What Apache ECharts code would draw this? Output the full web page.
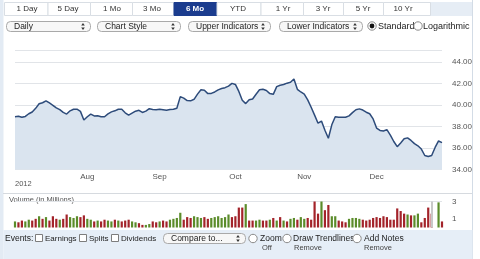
<!DOCTYPE html>
<html><head><meta charset="utf-8">
<script src="https://cdn.jsdelivr.net/npm/echarts@6/dist/echarts.min.js"></script>
<style>html,body{margin:0;padding:0;background:#fff}#c{width:480px;height:259px}</style>
</head><body><div id="c"></div>
<script>
// ---- data ----
const closes = [
38.91,38.95,38.85,38.93,39.18,39.34,39.68,40.10,40.20,40.37,
40.18,39.96,39.72,39.56,39.30,39.15,39.45,39.60,39.60,39.40,
38.60,38.90,39.15,38.98,39.00,38.90,38.90,39.17,39.35,39.45,
39.60,39.60,39.27,39.05,39.24,39.42,39.50,39.30,39.42,39.65,
39.58,39.55,39.60,39.55,39.50,39.57,39.60,39.69,40.77,40.63,
40.40,40.38,40.52,41.00,41.40,41.37,41.05,41.07,41.20,41.40,
41.52,41.60,41.75,42.00,41.90,41.25,40.44,40.12,40.47,40.55,
40.99,41.40,41.45,41.34,41.05,40.98,41.70,41.83,41.89,42.02,
42.10,42.40,41.45,41.20,41.00,40.47,39.78,39.05,38.30,38.50,
37.65,36.90,38.15,38.90,38.85,38.85,38.85,38.98,39.28,39.55,
39.63,39.52,39.32,39.18,38.70,37.85,37.63,37.58,37.70,37.20,
36.60,36.12,36.47,36.85,36.94,36.70,36.40,36.20,35.90,35.30,
35.20,35.30,36.05,36.65,36.50];
const volumes = [
0.7,0.6,0.8,0.7,0.9,0.8,1.0,1.3,1.0,1.2,
0.8,1.3,1.0,0.9,1.0,1.5,1.2,1.1,1.3,1.2,
1.4,1.0,0.9,0.7,0.8,0.7,0.9,0.8,0.7,0.9,
0.8,0.7,0.8,0.9,0.7,0.6,0.5,0.3,0.3,0.4,
0.7,0.6,0.7,0.8,0.7,0.9,1.0,1.1,1.7,0.9,
1.2,1.1,1.3,1.2,1.1,1.2,1.0,1.1,1.2,1.3,
1.1,1.2,1.5,1.2,1.3,2.3,2.3,2.7,0.8,0.8,
0.8,0.9,0.8,0.8,0.9,1.1,0.8,1.2,0.8,0.7,
1.0,1.1,0.9,1.2,1.0,1.1,0.9,3.0,1.6,3.0,
2.0,2.6,1.3,1.3,0.8,0.7,0.6,1.0,1.1,1.1,
1.0,0.9,0.8,0.9,1.1,1.2,1.1,1.3,1.2,0.9,
0.9,2.2,1.9,1.6,1.5,1.4,1.4,1.6,0.6,1.1,
2.3,1.6,0.0,2.9,0.7];
// 1 = green (up), 0 = red (down)
const volUp = [
1,0,0,1,1,0,0,1,0,1,
0,0,0,1,0,0,1,1,1,0,
0,1,1,0,1,0,0,1,1,0,
1,0,0,0,1,1,0,0,1,1,
0,0,1,0,0,1,1,1,1,0,
0,0,1,1,1,0,0,1,1,1,
1,1,1,0,0,0,0,1,0,0,
1,1,0,0,1,0,1,0,1,0,
1,1,0,1,1,0,0,0,0,1,
0,0,1,1,0,0,0,1,1,1,
1,0,0,0,0,0,0,0,0,0,
0,0,0,0,1,0,1,1,0,0,
0,0,0,1,0];
const monthTicks = {21:'Aug', 42:'Sep', 64:'Oct', 84:'Nov', 105:'Dec'};
const tabs = ['1 Day','5 Day','1 Mo','3 Mo','6 Mo','YTD','1 Yr','3 Yr','5 Yr','10 Yr'];
const tabCenters = [27,68,112,152,195,238,283,323,363,403];
const selectedTab = '6 Mo';
const dropdowns = ['Daily','Chart Style','Upper Indicators','Lower Indicators'];

const cats = closes.map((_, i) => String(i));
const UP = '#5b8c2a', DOWN = '#a3232a';
const FONT = 'Liberation Sans, Arial, sans-serif';

// ---- UI graphics ----
const g = [];
g.push({type:'rect', shape:{x:0,y:0,width:3.5,height:259}, style:{fill:'#e3ebf4'}, silent:true});
g.push({type:'line', shape:{x1:472.5,y1:0,x2:472.5,y2:259}, style:{stroke:'#d3dce6',lineWidth:1}, silent:true});
g.push({type:'rect', shape:{x:430,y:2,width:42,height:14}, style:{fill:'#e6edf5'}, silent:true});
tabs.forEach((t, i) => {
  const l = i === 0 ? 4 : (tabCenters[i-1] + tabCenters[i]) / 2;
  const r = i === tabs.length - 1 ? 430 : (tabCenters[i] + tabCenters[i+1]) / 2;
  const sel = t === selectedTab;
  g.push({type:'rect', shape:{x:l+0.5,y:2.5,width:r-l,height:13}, style:{fill: sel ? '#1b3c8e' : '#fff', stroke: sel ? '#1b3c8e' : '#d9dee4', lineWidth:1}, silent:true});
  g.push({type:'text', style:{text:t, x:tabCenters[i], y:9, align:'center', verticalAlign:'middle', font:(sel?'bold ':'')+'8px '+FONT, fill: sel ? '#fff' : '#333'}, silent:true});
});
const ddBoxes = [[6,90],[97,180],[188,270],[279,362]];
function dropdown(x1, x2, y1, y2, label) {
  g.push({type:'rect', shape:{x:x1+0.5,y:y1+0.5,width:x2-x1,height:y2-y1,r:4}, style:{fill:'#f7f7f7', stroke:'#a9a9a9', lineWidth:1}, silent:true});
  g.push({type:'text', style:{text:label, x:x1+8, y:(y1+y2)/2+0.5, verticalAlign:'middle', font:'8.5px '+FONT, fill:'#222'}, silent:true});
  const ax = x2 - 7, cy = (y1+y2)/2 + 0.5;
  g.push({type:'polygon', shape:{points:[[ax-1.8,cy-1],[ax+1.8,cy-1],[ax,cy-3.5]]}, style:{fill:'#333'}, silent:true});
  g.push({type:'polygon', shape:{points:[[ax-1.8,cy+1],[ax+1.8,cy+1],[ax,cy+3.5]]}, style:{fill:'#333'}, silent:true});
}
dropdowns.forEach((d, i) => dropdown(ddBoxes[i][0], ddBoxes[i][1], 21, 31, d));
function radio(cx, cy, on) {
  g.push({type:'circle', shape:{cx:cx,cy:cy,r:4.2}, style:{fill:'#fff', stroke:'#8a8a8a', lineWidth:1}, silent:true});
  if (on) g.push({type:'circle', shape:{cx:cx,cy:cy,r:2.4}, style:{fill:'#111'}, silent:true});
}
radio(372, 26, true);
g.push({type:'text', style:{text:'Standard', x:378, y:26.5, verticalAlign:'middle', font:'9px '+FONT, fill:'#222'}, silent:true});
radio(418, 26, false);
g.push({type:'text', style:{text:'Logarithmic', x:423, y:26.5, verticalAlign:'middle', font:'9px '+FONT, fill:'#222'}, silent:true});
g.push({type:'text', style:{text:'LINE.0', x:22, y:124, verticalAlign:'middle', font:'8px '+FONT, fill:'#2d4b7a'}, silent:true});
g.push({type:'text', style:{text:'2012', x:15, y:184, verticalAlign:'middle', font:'7.5px '+FONT, fill:'#555'}, silent:true});
g.push({type:'line', shape:{x1:3,y1:193.5,x2:472,y2:193.5}, style:{stroke:'#d6dadf',lineWidth:1}, silent:true});
g.push({type:'text', style:{text:'Volume (in Millions)', x:9, y:199.5, verticalAlign:'middle', font:'7.5px '+FONT, fill:'#555'}, silent:true});
g.push({type:'rect', shape:{x:3.5,y:230,width:469,height:29}, style:{fill:'#e6eef7'}, silent:true});
g.push({type:'text', style:{text:'Events:', x:5, y:238.5, verticalAlign:'middle', font:'8.5px '+FONT, fill:'#222'}, silent:true});
function checkbox(x, label) {
  g.push({type:'rect', shape:{x:x+0.5,y:234.5,width:7,height:7}, style:{fill:'#fff', stroke:'#7d7d7d', lineWidth:1}, silent:true});
  g.push({type:'text', style:{text:label, x:x+10, y:238.5, verticalAlign:'middle', font:'8px '+FONT, fill:'#222'}, silent:true});
}
checkbox(35, 'Earnings');
checkbox(79, 'Splits');
checkbox(111, 'Dividends');
dropdown(163, 245, 233, 243, 'Compare to...');
radio(253, 238.5, false);
g.push({type:'text', style:{text:'Zoom', x:260, y:238.5, verticalAlign:'middle', font:'8.5px '+FONT, fill:'#222'}, silent:true});
g.push({type:'text', style:{text:'Off', x:262, y:248, verticalAlign:'middle', font:'7.5px '+FONT, fill:'#444'}, silent:true});
radio(287, 238.5, false);
g.push({type:'text', style:{text:'Draw Trendlines', x:293, y:238.5, verticalAlign:'middle', font:'8.5px '+FONT, fill:'#222'}, silent:true});
g.push({type:'text', style:{text:'Remove', x:294, y:248, verticalAlign:'middle', font:'7.5px '+FONT, fill:'#444'}, silent:true});
radio(357, 238.5, false);
g.push({type:'text', style:{text:'Add Notes', x:364, y:238.5, verticalAlign:'middle', font:'8.5px '+FONT, fill:'#222'}, silent:true});
g.push({type:'text', style:{text:'Remove', x:364, y:248, verticalAlign:'middle', font:'7.5px '+FONT, fill:'#444'}, silent:true});

const chart = echarts.init(document.getElementById('c'), null, {renderer:'canvas'});
chart.setOption({
  animation: false,
  backgroundColor: '#fff',
  textStyle: {fontFamily: FONT},
  grid: [
    {left:15, right:38, top:50, bottom:89.5},
    {left:15, right:38, top:201.5, bottom:31.5}
  ],
  xAxis: [
    {type:'category', gridIndex:0, data:cats, boundaryGap:false,
     axisLine:{show:false}, axisTick:{show:false},
     axisLabel:{interval:(i)=> monthTicks[i] !== undefined, formatter:(v,i)=> monthTicks[i] || '', fontSize:8, color:'#555', margin:3}},
    {type:'category', gridIndex:1, data:cats, boundaryGap:false,
     axisLine:{show:false}, axisTick:{show:false}, axisLabel:{show:false}}
  ],
  yAxis: [
    {type:'value', gridIndex:0, position:'right', min:34, max:45.1, interval:2,
     axisLine:{show:false}, axisTick:{show:false},
     axisLabel:{formatter:(v)=> v.toFixed(2), fontSize:8, color:'#555', margin:10, showMaxLabel:false},
     splitLine:{lineStyle:{color:'#e1e4e8', width:1}}},
    {type:'value', gridIndex:1, position:'right', min:0, max:3, interval:1,
     axisLine:{show:false}, axisTick:{show:false},
     axisLabel:{formatter:(v)=> (v===1||v===3) ? String(v) : '', fontSize:8, color:'#555', margin:10},
     splitLine:{lineStyle:{color:['transparent','transparent','transparent','#e1e4e8']}}}
  ],
  series: [
    {type:'line', xAxisIndex:0, yAxisIndex:0, data:closes, showSymbol:false, smooth:false,
     lineStyle:{color:'#2d4b7a', width:1.5}, areaStyle:{color:'#dae4ef', opacity:1, origin:'start'}},
    {type:'bar', xAxisIndex:1, yAxisIndex:1, barWidth:2.2,
     data: volumes.map((v, i) => ({value:v, itemStyle:{color: volUp[i] ? UP : DOWN}})),
     markLine:{silent:true, symbol:'none', label:{show:false}, lineStyle:{color:'#c8c8c8', width:2, type:'solid'},
       data:[{xAxis:'121'}]}}
  ],
  graphic: g
});
</script></body></html>
